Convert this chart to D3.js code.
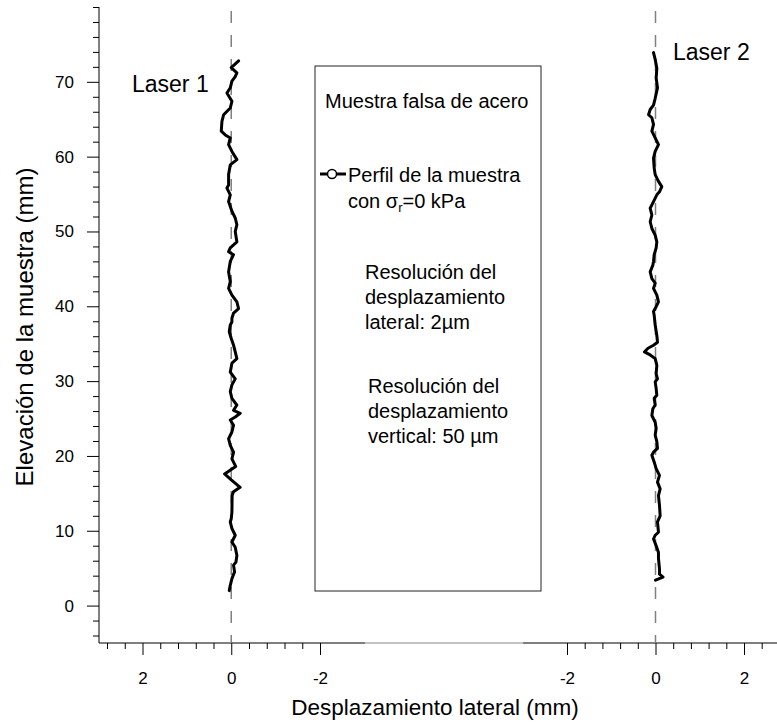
<!DOCTYPE html>
<html><head><meta charset="utf-8">
<script src="https://cdn.jsdelivr.net/npm/d3@7"></script>
<style>
body{margin:0;background:#fff}
svg text{font-family:Arial,"Liberation Sans",sans-serif;fill:#000}
</style>
</head><body>
<svg id="c" width="777" height="723"></svg>
<script>
// ---- data ----
const laser1Elev = [72.8,71.9,71.2,70.7,70.1,69.2,68.5,67.4,66.5,65.6,64.7,63.4,62.9,62.5,61.6,60.7,59.6,58.9,57.6,56.2,55.8,54.9,54.0,52.7,51.8,50.9,50.0,48.6,47.8,47.3,46.9,46.0,44.6,43.3,42.4,41.5,40.6,39.7,39.1,38.4,37.9,
  37.5,36.6,35.7,34.8,33.9,33.0,32.4,31.2,30.3,29.5,28.6,27.7,26.8,26.1,25.7,25.2,24.8,24.1,23.2,22.3,21.4,20.5,19.6,18.6,17.6,16.8,15.8,15.2,14.7,12.5,11.6,11.2,10.3,9.4,8.5,7.8,6.7,5.8,5.4,4.5,3.6,2.7,2.0];
const laser1Disp = [-0.165,0,-0.127,-0.09,-0.015,0.022,0.097,-0.015,0.022,0.172,0.21,0.225,0.135,0.022,0.06,-0.015,-0.127,0.022,0.06,0.06,0.097,0.022,0.06,-0.015,-0.09,-0.127,-0.09,-0.127,0.022,0.06,-0.052,0.022,0.06,0.022,0.06,-0.015,-0.127,-0.165,-0.052,-0.015,-0.015,
  0.022,0.045,0,-0.052,-0.09,-0.127,-0.015,0.022,-0.09,-0.015,0.022,-0.015,-0.127,-0.052,-0.202,-0.09,0.022,-0.052,-0.015,0.06,0.022,-0.052,-0.015,-0.1,0.15,0.0,-0.2,-0.05,-0.02,-0.015,0,0.022,-0.015,-0.09,-0.015,-0.09,-0.127,-0.105,-0.052,-0.075,-0.015,0.022,0.045];

const laser2Elev = [73.9,73.0,71.8,70.5,69.2,67.8,66.9,66.3,65.6,65.2,64.3,63.4,62.5,61.6,60.7,59.8,58.5,57.6,56.7,56.0,55.3,54.9,54.0,53.1,52.2,51.3,50.4,49.5,48.6,47.8,46.9,46.0,45.5,44.6,43.7,43.1,42.4,41.5,40.6,39.7,39.3,
  38.8,37.5,36.1,35.2,34.8,34.4,33.9,33.5,33.0,32.1,31.0,30.3,29.9,29.0,28.1,27.7,26.8,26.3,25.4,24.5,23.7,22.8,21.9,21.0,20.5,20.1,19.2,18.3,17.4,16.5,15.6,14.7,13.4,12.0,11.2,9.8,9.4,8.9,8.0,7.1,6.3,4.9,4.2,3.8,3.4];
const laser2Disp = [-0.045,-0.007,0.03,0.015,0.045,-0.007,-0.045,-0.12,-0.157,-0.082,-0.045,-0.082,-0.007,0.067,-0.007,-0.045,-0.03,-0.007,0.067,0.142,0.09,0.03,-0.045,-0.12,-0.082,-0.12,-0.082,-0.007,0.03,0.015,-0.03,-0.045,-0.06,-0.12,-0.082,-0.007,-0.045,0.03,0.067,-0.007,-0.045,
  -0.03,-0.007,0.03,0.045,-0.045,-0.17,-0.25,-0.12,-0.007,0.03,0.015,0.045,-0.007,0.015,0.03,-0.03,-0.007,-0.06,-0.082,-0.007,0.015,-0.007,0.03,0.045,-0.045,-0.082,-0.03,0.015,0.09,0.045,0.105,0.067,0.09,0.105,0.045,0.067,-0.007,-0.045,0.015,0.067,0.067,0.09,0.09,0.17,0.0];

const yMajorTicks = [0,10,20,30,40,50,60,70];
const yMinorTicks = [-4,-2,2,4,6,8,12,14,16,18,22,24,26,28,32,34,36,38,42,44,46,48,52,54,56,58,62,64,66,68,72,74,76,78,80];
const xMajorTicks = [2,0,-2];
const xLeftMinor = [2.8,2.4,1.6,1.2,0.8,0.4,-0.4,-0.8,-1.2,-1.6];
const xRightMinor = [-1.6,-1.2,-0.8,-0.4,0.4,0.8,1.2,1.6,2.4,2.8];

// ---- scales ----
const W = 777, H = 723;
const svg = d3.select('#c');
svg.append('rect').attr('width',W).attr('height',H).attr('fill','#fff');

const y = d3.scaleLinear().domain([-5,80]).range([643,7]);
const xL = d3.scaleLinear().domain([2,-2]).range([142.5,320]);
const xR = d3.scaleLinear().domain([-2,2]).range([567,744]);
const axisX0 = 99;
const axisY0 = y(-5);
const FONT = 'Arial, Liberation Sans, sans-serif';

// ---- y axis ----
const gy = svg.append('g').attr('transform',`translate(${axisX0},0)`);
gy.call(d3.axisLeft(y).tickValues(yMajorTicks).tickSize(12).tickSizeOuter(0).tickPadding(13).tickFormat(String));
gy.append('g').call(d3.axisLeft(y).tickValues(yMinorTicks).tickSize(6).tickSizeOuter(0).tickFormat(''));
gy.selectAll('.domain').remove();
gy.selectAll('line').attr('stroke','#000').attr('stroke-width',1);
gy.selectAll('text').attr('font-size',17).attr('font-family',FONT);
svg.append('line').attr('x1',axisX0).attr('x2',axisX0).attr('y1',y(80)).attr('y2',axisY0).attr('stroke','#000');

// ---- x axes ----
function xAxis(scale, minor){
  const g = svg.append('g').attr('transform',`translate(0,${axisY0})`);
  g.call(d3.axisBottom(scale).tickValues(xMajorTicks).tickSize(12).tickSizeOuter(0).tickPadding(17).tickFormat(String));
  g.append('g').call(d3.axisBottom(scale).tickValues(minor).tickSize(6).tickSizeOuter(0).tickFormat(''));
  g.selectAll('.domain').remove();
  g.selectAll('line').attr('stroke','#000').attr('stroke-width',1);
  g.selectAll('text').attr('font-size',17).attr('font-family',FONT);
}
xAxis(xL, xLeftMinor);
xAxis(xR, xRightMinor);
svg.append('line').attr('x1',axisX0).attr('x2',365).attr('y1',axisY0).attr('y2',axisY0).attr('stroke','#000');
svg.append('line').attr('x1',365).attr('x2',523).attr('y1',axisY0).attr('y2',axisY0).attr('stroke','#888');
svg.append('line').attr('x1',523).attr('x2',W).attr('y1',axisY0).attr('y2',axisY0).attr('stroke','#000');

// ---- zero reference lines ----
[xL(0), xR(0)].forEach(xx=>{
  svg.append('line').attr('x1',xx).attr('x2',xx).attr('y1',y(80)+4).attr('y2',axisY0)
    .attr('stroke','#808080').attr('stroke-width',1.5).attr('stroke-dasharray','12,12');
});

// ---- legend box ----
svg.append('rect').attr('x',315).attr('y',66).attr('width',226).attr('height',525)
  .attr('fill','none').attr('stroke','#222').attr('stroke-width',1);

// ---- profiles ----
const l1 = laser1Elev.map((e,i)=>({e, v:laser1Disp[i]}));
const l2 = laser2Elev.map((e,i)=>({e, v:laser2Disp[i]}));
svg.append('path').datum(l1)
  .attr('d', d3.line().x(d=>xL(d.v)).y(d=>y(d.e)))
  .attr('fill','none').attr('stroke','#000').attr('stroke-width',3).attr('stroke-linejoin','round').attr('stroke-linecap','round');
svg.append('path').datum(l2)
  .attr('d', d3.line().x(d=>xR(d.v)).y(d=>y(d.e)))
  .attr('fill','none').attr('stroke','#000').attr('stroke-width',3).attr('stroke-linejoin','round').attr('stroke-linecap','round');

// ---- texts ----
function txt(x,yy,s,size,anchor){
  return svg.append('text').attr('x',x).attr('y',yy).attr('font-size',size).attr('text-anchor',anchor||'start').text(s);
}
txt(132,92,'Laser 1',23);
txt(673,60,'Laser 2',23);
txt(325,108,'Muestra falsa de acero',20);
svg.append('line').attr('x1',320).attr('x2',346).attr('y1',174).attr('y2',174).attr('stroke','#000').attr('stroke-width',3);
svg.append('circle').attr('cx',332).attr('cy',174).attr('r',4.5).attr('fill','#fff').attr('stroke','#000').attr('stroke-width',1.5);
txt(348,182,'Perfil de la muestra',20);
const t2 = svg.append('text').attr('x',348).attr('y',208).attr('font-size',20);
t2.append('tspan').text('con σ');
t2.append('tspan').attr('font-size',13).attr('dy',4).text('r');
t2.append('tspan').attr('dy',-4).text('=0 kPa');
txt(365,279,'Resolución del',20);
txt(365,304,'desplazamiento',20);
txt(365,329,'lateral: 2µm',20);
txt(368,393,'Resolución del',20);
txt(368,418,'desplazamiento',20);
txt(368,443,'vertical: 50 µm',20);

// axis titles
txt(435,715,'Desplazamiento lateral (mm)',22.5,'middle');
svg.append('text').attr('transform','translate(33,327) rotate(-90)')
  .attr('text-anchor','middle').attr('font-size',24).text('Elevación de la muestra (mm)');
</script>
</body></html>
